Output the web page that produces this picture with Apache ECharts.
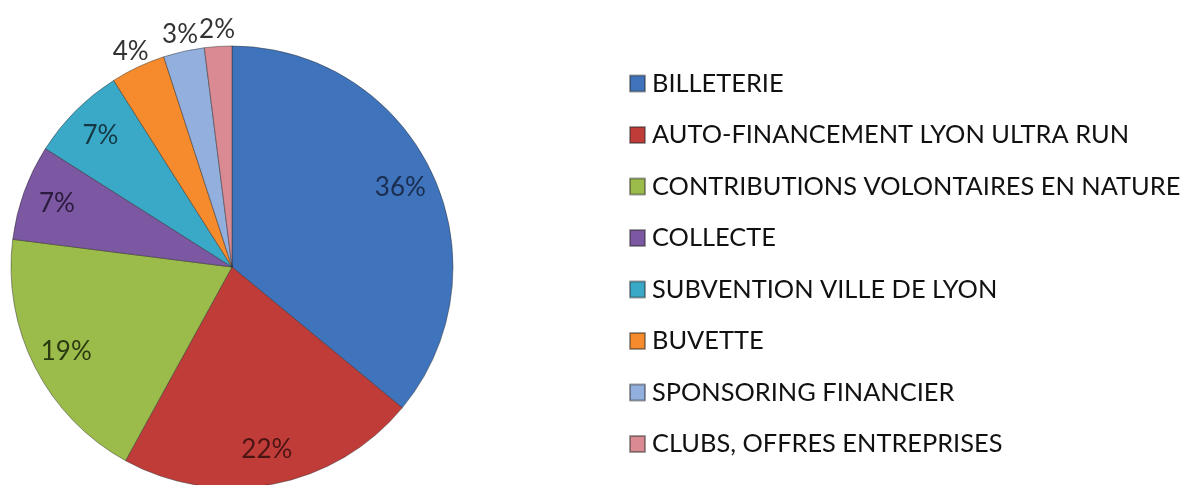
<!DOCTYPE html>
<html>
<head>
<meta charset="utf-8">
<script src="https://cdn.jsdelivr.net/npm/echarts@6/dist/echarts.min.js"></script>
<style>
html,body{margin:0;padding:0;background:#fff;}
#chart{width:1189px;height:485px;}
</style>
</head>
<body>
<div id="chart"></div>
<script>
var categories = [
  'BILLETERIE',
  'AUTO-FINANCEMENT LYON ULTRA RUN',
  'CONTRIBUTIONS VOLONTAIRES EN NATURE',
  'COLLECTE',
  'SUBVENTION VILLE DE LYON',
  'BUVETTE',
  'SPONSORING FINANCIER',
  'CLUBS, OFFRES ENTREPRISES'
];
var values = [36, 22, 19, 7, 7, 4, 3, 2];

var sliceColors = ['#3f74bd', '#bf3c39', '#9bbb4a', '#7d58a2', '#3aa9c8', '#f58b2c', '#93afdd', '#d98a92'];
var labelColors = ['#1b2d4f', '#4a1412', '#2c3a12', '#2a1b3c', '#153844', '#333333', '#333333', '#333333'];
var FONT = 'Lato, "Open Sans", sans-serif';

var chart = echarts.init(document.getElementById('chart'), null, {renderer: 'canvas'});

var mainData = categories.map(function (name, i) {
  return {name: name, value: values[i], itemStyle: {color: sliceColors[i]}};
});
function overlayData(showFn) {
  return categories.map(function (name, i) {
    return {
      name: name,
      value: values[i],
      label: {show: showFn(values[i]), color: labelColors[i]}
    };
  });
}
var overlayCommon = {
  type: 'pie',
  center: [232, 267],
  startAngle: 90,
  clockwise: true,
  silent: true,
  percentPrecision: 0,
  itemStyle: {color: 'rgba(0,0,0,0)', borderWidth: 0},
  labelLine: {show: false},
  emphasis: {disabled: true},
  animation: false
};

chart.setOption({
  backgroundColor: '#ffffff',
  animation: false,
  legend: {
    orient: 'vertical',
    left: 624,
    top: 66,
    itemWidth: 15,
    itemHeight: 16,
    itemGap: 26.5,
    icon: 'rect',
    selectedMode: false,
    data: categories,
    textStyle: {
      fontFamily: FONT,
      fontSize: 25.4,
      lineHeight: 24,
      color: '#111111',
      padding: [0, 0, 0, 2]
    }
  },
  series: [
    {
      type: 'pie',
      name: 'main',
      center: [232, 267],
      radius: [0, 221],
      startAngle: 90,
      clockwise: true,
      data: mainData,
      label: {show: false},
      labelLine: {show: false},
      itemStyle: {borderColor: 'rgba(40,40,40,0.45)', borderWidth: 1},
      emphasis: {disabled: true}
    },
    Object.assign({}, overlayCommon, {
      name: 'inner-labels',
      radius: [150, 216],
      data: overlayData(function (v) { return v >= 5; }),
      label: {position: 'inside', formatter: '{d}%', fontFamily: FONT, fontSize: 26, rotate: 0}
    }),
    Object.assign({}, overlayCommon, {
      name: 'outer-labels',
      radius: [222, 248],
      data: overlayData(function (v) { return v < 5; }),
      label: {position: 'inside', formatter: '{d}%', fontFamily: FONT, fontSize: 26, rotate: 0}
    })
  ]
});
</script>
</body>
</html>
